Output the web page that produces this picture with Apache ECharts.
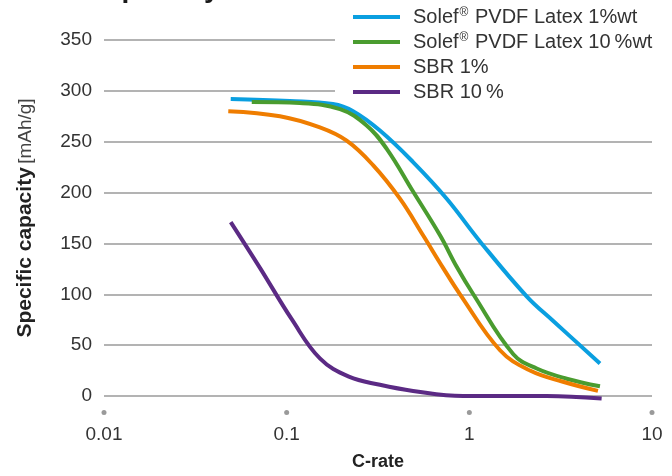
<!DOCTYPE html>
<html>
<head>
<meta charset="utf-8">
<script src="https://cdn.jsdelivr.net/npm/echarts@6/dist/echarts.min.js"></script>
<style>
  html, body { margin: 0; padding: 0; background: #fff; }
  #main { width: 672px; height: 476px; }
</style>
</head>
<body>
<div id="main"></div>
<script>
// series data (C-rate, mAh/g)
const pvdf1Rate = [0.0494, 0.104, 0.179, 0.231, 0.324, 0.492, 0.752, 1.144, 2.06, 2.87, 5.19];
const pvdf1Cap = [292, 290, 287, 280, 261, 230, 194, 152, 98, 74, 32];

const pvdf10Rate = [0.0644, 0.118, 0.196, 0.274, 0.353, 0.492, 0.691, 0.853, 1.051, 1.741, 2.338, 3.41, 5.19];
const pvdf10Cap = [289, 288, 282, 266, 243, 201, 158, 127, 100, 41, 27, 17, 9.5];

const sbr1Rate = [0.0479, 0.0919, 0.152, 0.213, 0.297, 0.417, 0.558, 0.718, 0.889, 1.472, 2.148, 3.256, 5.06];
const sbr1Cap = [280, 275, 264, 251, 227, 194, 158, 126, 100, 45, 25, 14, 5];

const sbr10Rate = [0.0494, 0.0714, 0.107, 0.152, 0.219, 0.324, 0.492, 0.923, 2.652, 5.30];
const sbr10Cap = [171, 126, 75, 37, 19, 11, 5, 0, 0, -2.5];

const seriesNames = ["Solef® PVDF Latex 1%wt", "Solef® PVDF Latex 10\u2009%wt", "SBR 1%", "SBR 10\u2009%"];
const seriesColors = ["#0a9fe0", "#4a9c2f", "#ef7d00", "#5b2a84"];
const xTickLabels = ["0.01", "0.1", "1", "10"];
const yTicks = [0, 50, 100, 150, 200, 250, 300, 350];

const font = "Liberation Sans";

function pairs(xs, ys) {
  return xs.map((x, i) => [x, ys[i]]);
}

function legendText(name) {
  // superscript the registered sign
  if (name.indexOf("®") < 0) return "{a|" + name + "}";
  const parts = name.split("®");
  return "{a|" + parts[0] + "}{sup|®}{a|" + parts[1] + "}";
}

const chart = echarts.init(document.getElementById("main"));

const allData = [
  pairs(pvdf1Rate, pvdf1Cap),
  pairs(pvdf10Rate, pvdf10Cap),
  pairs(sbr1Rate, sbr1Cap),
  pairs(sbr10Rate, sbr10Cap),
];

const option = {
  backgroundColor: "#fff",
  animation: false,
  title: {
    text: "Rate capability",
    left: 17,
    top: -30,
    textStyle: { fontFamily: font, fontSize: 28, fontWeight: "bold", color: "#1a1a1a" },
  },
  legend: {
    orient: "vertical",
    left: 335,
    top: 4,
    padding: [3, 60, 4, 18],
    backgroundColor: "#fff",
    itemWidth: 47,
    itemHeight: 4,
    itemGap: 5,
    icon: "rect",
    formatter: legendText,
    textStyle: {
      fontFamily: font,
      fontSize: 20,
      color: "#333",
      padding: [0, 0, 0, 8],
      rich: {
        a: { fontFamily: font, fontSize: 20, color: "#333", lineHeight: 20 },
        sup: { fontFamily: font, fontSize: 12, color: "#333", verticalAlign: "top", lineHeight: 20, padding: [0, 1, 0, 1] },
      },
    },
    data: seriesNames,
  },
  grid: { left: 104, right: 20, top: 40, bottom: 77 },
  xAxis: {
    type: "log",
    logBase: 10,
    min: 0.01,
    max: 10,
    name: "C-rate",
    nameLocation: "middle",
    nameGap: 57,
    nameTextStyle: { fontFamily: font, fontSize: 18, fontWeight: "bold", color: "#222" },
    axisLine: { show: false },
    axisTick: { show: false },
    splitLine: { show: false },
    axisLabel: {
      margin: 14,
      formatter: function (v) {
        const idx = Math.round(Math.log10(v)) + 2;
        return "{dot|}\n{t|" + xTickLabels[idx] + "}";
      },
      rich: {
        dot: { width: 5, height: 5, borderRadius: 2.5, backgroundColor: "#9a9a9a", lineHeight: 5 },
        t: { fontFamily: font, fontSize: 19, color: "#333", lineHeight: 40 },
      },
    },
  },
  yAxis: {
    type: "value",
    min: 0,
    max: 350,
    interval: 50,
    name: "{b|Specific capacity} {n|[mAh/g]}",
    nameLocation: "middle",
    nameGap: 68,
    nameTextStyle: {
      rich: {
        b: { fontFamily: font, fontSize: 21, fontWeight: "bold", color: "#222" },
        n: { fontFamily: font, fontSize: 19, color: "#444" },
      },
    },
    axisLine: { show: false },
    axisTick: { show: false },
    axisLabel: {
      margin: 12,
      fontFamily: font,
      fontSize: 19,
      color: "#333",
      formatter: function (v) {
        return yTicks.indexOf(v) >= 0 ? String(v) : "";
      },
    },
    splitLine: { show: true, lineStyle: { color: "#9a9a9a", width: 1.5 } },
  },
  series: seriesNames.map((name, i) => ({
    name: name,
    type: "line",
    data: allData[i],
    smooth: 0.4,
    symbol: "none",
    clip: false,
    z: 5,
    lineStyle: { width: 4, color: seriesColors[i] },
    itemStyle: { color: seriesColors[i] },
  })),
};

chart.setOption(option);
</script>
</body>
</html>
